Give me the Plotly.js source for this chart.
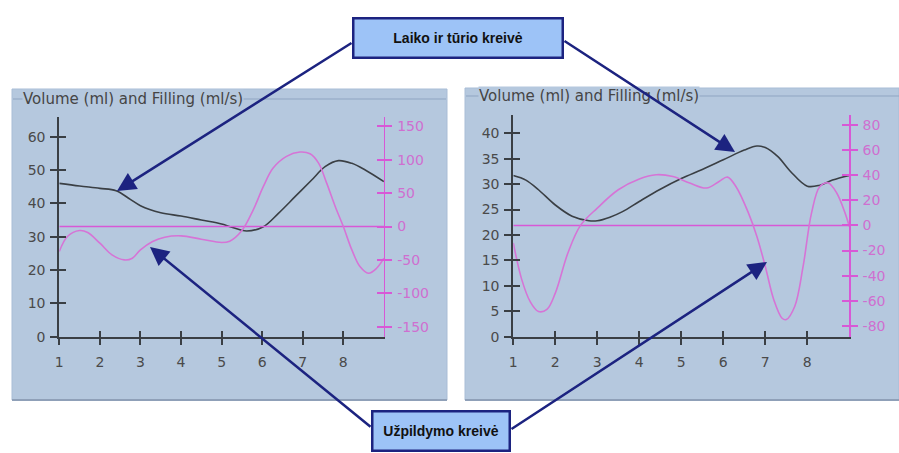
<!DOCTYPE html>
<html>
<head>
<meta charset="utf-8">
<script src="https://cdn.plot.ly/plotly-3.0.1.min.js"></script>
<style>html,body{margin:0;padding:0;background:#fff;}#chart{width:899px;height:453px;}</style>
</head>
<body>
<div id="chart"></div>
<script>
// ---- data ----
const panelTitle = "Volume (ml) and Filling (ml/s)";
const boxTop = "Laiko ir tūrio kreivė";
const boxBottom = "Užpildymo kreivė";

const xTicks = [1, 2, 3, 4, 5, 6, 7, 8];
const xRange = [1, 9];

// left panel
const leftVolX = [1, 1.5, 2, 2.4, 2.75, 3, 3.5, 4, 4.5, 5, 5.21, 5.62, 6.03, 6.4, 6.81, 7.22, 7.55, 7.88, 8.21, 8.54, 9];
const leftVolY = [46, 45.2, 44.5, 43.8, 41.2, 39.3, 37.2, 36.2, 35, 33.8, 33, 31.7, 33, 37, 42, 47, 51, 52.8, 52, 50, 46.5];
const leftFillX = [1, 1.2, 1.5, 1.7, 2, 2.3, 2.6, 2.8, 3, 3.3, 3.6, 4, 4.5, 5, 5.2, 5.5, 5.78, 6.03, 6.27, 6.6, 6.93, 7.18, 7.39, 7.59, 7.8, 8, 8.21, 8.41, 8.62, 8.82, 9];
const leftFillY = [-37.5, -15, -6, -9, -25, -42.5, -50, -47.5, -35, -22.5, -16, -14, -19, -24, -22, -6, 25, 60, 87.5, 105, 111.5, 109, 95, 65, 30, 0, -35, -60, -70, -62.5, -47.5];
const leftVolTicks = [0, 10, 20, 30, 40, 50, 60];
const leftFillTicks = [-150, -100, -50, 0, 50, 100, 150];
const leftFillLabels = ["-150", "-100", "-50", "0", "50", "100", "150"];

// right panel
const rightVolX = [1, 1.3, 1.6, 2, 2.4, 2.8, 3, 3.3, 3.6, 4, 4.5, 5, 5.5, 6, 6.5, 6.8, 7, 7.3, 7.6, 8, 8.3, 8.6, 9];
const rightVolY = [31.7, 30.8, 28.9, 25.9, 23.7, 22.8, 22.8, 23.5, 24.6, 26.6, 29, 31.1, 32.9, 34.8, 36.7, 37.5, 37.2, 35.4, 32.5, 29.6, 29.8, 30.8, 31.7];
const rightFillX = [1, 1.2, 1.4, 1.6, 1.8, 2, 2.3, 2.6, 3, 3.5, 4, 4.4, 4.8, 5.2, 5.6, 5.9, 6.1, 6.3, 6.6, 6.8, 7, 7.2, 7.4, 7.5, 7.7, 7.9, 8.1, 8.3, 8.5, 8.7, 8.9, 9];
const rightFillY = [-14, -43, -60.6, -68.6, -67, -54, -22, 0, 13.8, 28.4, 37, 40.4, 39, 33.8, 29.8, 35, 38.5, 31, 9.8, -8.8, -32.7, -59, -74, -75, -64.6, -32.7, 9.8, 31, 33.8, 25.8, 9.8, -0.8];
const rightVolTicks = [0, 5, 10, 15, 20, 25, 30, 35, 40];
const rightFillTicks = [-80, -60, -40, -20, 0, 20, 40, 60, 80];
const rightFillLabels = ["-80", "-60", "-40", "-20", "0", "20", "40", "60", "80"];

// ---- styling ----
const W = 899, H = 453;
const px = v => v / W;
const py = v => 1 - v / H;
const PANEL = '#b5c8de';
const AX = '#3a3f44';
const MAG = '#d674d6';
const MAGAX = '#d858d6';
const LBL = '#4a4a4a';
const NAVY = '#1c2380';
const FONT = 'DejaVu Sans';
const TW = 2;

const base = {showgrid: false, zeroline: false, fixedrange: true, tickmode: 'array'};

function xAxis(domain, anchor) {
  return Object.assign({}, base, {
    domain: domain, anchor: anchor, range: xRange, tickvals: xTicks,
    ticks: 'outside', ticklen: 6, tickwidth: TW, tickcolor: AX,
    showline: true, linecolor: AX, linewidth: 2,
    tickfont: {family: FONT, size: 14, color: LBL}, ticklabelstandoff: 5
  });
}
function xInner(over, anchor) {
  return Object.assign({}, base, {
    overlaying: over, anchor: anchor, range: xRange, tickvals: xTicks,
    ticks: 'inside', ticklen: 6, tickwidth: TW, tickcolor: AX,
    showline: false, showticklabels: false
  });
}
function yLeft(domain, anchor, range, ticks) {
  return Object.assign({}, base, {
    domain: domain, anchor: anchor, range: range, tickvals: ticks,
    ticks: 'outside', ticklen: 7, tickwidth: TW, tickcolor: AX,
    showline: true, linecolor: AX, linewidth: 2,
    tickfont: {family: FONT, size: 14, color: LBL}, ticklabelstandoff: 2
  });
}
function yInner(over, anchor, side, range, ticks, color) {
  return Object.assign({}, base, {
    overlaying: over, anchor: anchor, side: side, range: range, tickvals: ticks,
    ticks: 'inside', ticklen: 7, tickwidth: TW, tickcolor: color,
    showline: false, showticklabels: false
  });
}
function yRight(overlay, anchor, range, ticks, labels) {
  return Object.assign({}, base, {
    overlaying: overlay, anchor: anchor, side: 'right', range: range, tickvals: ticks, ticktext: labels,
    ticks: 'outside', ticklen: 7, tickwidth: TW, tickcolor: MAGAX,
    showline: true, linecolor: MAGAX, linewidth: 1.5,
    tickfont: {family: FONT, size: 14, color: '#cf6fd0'}, ticklabelstandoff: 2
  });
}

function line(x, y, xa, ya, color) {
  return {x: x, y: y, xaxis: xa, yaxis: ya, type: 'scatter', mode: 'lines', line: {color: color, width: 1.6, shape: 'spline'}, hoverinfo: 'skip'};
}
function dummy(xa, ya) {
  return {x: [], y: [], xaxis: xa, yaxis: ya, type: 'scatter', mode: 'lines', hoverinfo: 'skip'};
}

const traces = [
  dummy('x3', 'y'), dummy('x', 'y5'), dummy('x', 'y6'),
  dummy('x4', 'y3'), dummy('x2', 'y7'), dummy('x2', 'y8'),
  {x: xRange, y: [0, 0], xaxis: 'x', yaxis: 'y2', type: 'scatter', mode: 'lines', line: {color: MAGAX, width: 1.5}, hoverinfo: 'skip'},
  {x: xRange, y: [0, 0], xaxis: 'x2', yaxis: 'y4', type: 'scatter', mode: 'lines', line: {color: MAGAX, width: 1.5}, hoverinfo: 'skip'},
  line(leftVolX, leftVolY, 'x', 'y', AX),
  line(leftFillX, leftFillY, 'x', 'y2', MAG),
  line(rightVolX, rightVolY, 'x2', 'y3', AX),
  line(rightFillX, rightFillY, 'x2', 'y4', MAG)
];

function arrow(hx, hy, tx, ty) {
  return {
    xref: 'paper', yref: 'paper', x: px(hx), y: py(hy), ax: tx - hx, ay: ty - hy,
    text: '', showarrow: true, arrowhead: 2, arrowsize: 1.5, arrowwidth: 2.5,
    arrowcolor: NAVY, standoff: 0, startstandoff: 0
  };
}
function box(text, cx, cy, w, h) {
  return {
    xref: 'paper', yref: 'paper', x: px(cx), y: py(cy), xanchor: 'center', yanchor: 'middle',
    text: '<b>' + text + '</b>', showarrow: false, width: w, height: h, align: 'center', valign: 'middle',
    bgcolor: '#9dc3f7', bordercolor: NAVY, borderwidth: 2.5, borderpad: 0,
    font: {family: 'Liberation Sans', size: 14, color: '#111'}
  };
}
function ptitle(x, y) {
  return {
    xref: 'paper', yref: 'paper', x: px(x), y: py(y), xanchor: 'left', yanchor: 'middle',
    text: panelTitle, showarrow: false, bgcolor: PANEL, borderpad: 0,
    font: {family: FONT, size: 15, color: '#454545'}
  };
}

const lRangeL = [0, 65.9], lRangeR = [-165, 164];
const rRangeL = [0, 43.6], rRangeR = [-88.7, 88];

const layout = {
  width: W, height: H, margin: {l: 0, r: 0, t: 0, b: 0},
  paper_bgcolor: '#ffffff', plot_bgcolor: 'rgba(0,0,0,0)', showlegend: false,
  xaxis: xAxis([px(59.3), px(383.9)], 'y'),
  xaxis3: xInner('x', 'y'),
  yaxis: yLeft([py(336.7), py(117)], 'x', lRangeL, leftVolTicks),
  yaxis5: yInner('y', 'x', 'left', lRangeL, leftVolTicks, AX),
  yaxis2: yRight('y', 'x', lRangeR, leftFillTicks, leftFillLabels),
  yaxis6: yInner('y', 'x', 'right', lRangeR, leftFillTicks, MAGAX),
  xaxis2: xAxis([px(513.3), px(849.3)], 'y3'),
  xaxis4: xInner('x2', 'y3'),
  yaxis3: yLeft([py(336.7), py(115)], 'x2', rRangeL, rightVolTicks),
  yaxis7: yInner('y3', 'x2', 'left', rRangeL, rightVolTicks, AX),
  yaxis4: yRight('y3', 'x2', rRangeR, rightFillTicks, rightFillLabels),
  yaxis8: yInner('y3', 'x2', 'right', rRangeR, rightFillTicks, MAGAX),
  shapes: [
    {type: 'rect', xref: 'paper', yref: 'paper', x0: px(12), x1: px(447), y0: py(400), y1: py(89), fillcolor: PANEL, line: {color: '#a9bdd6', width: 1}, layer: 'below'},
    {type: 'rect', xref: 'paper', yref: 'paper', x0: px(465), x1: px(899), y0: py(400), y1: py(88), fillcolor: PANEL, line: {color: '#a9bdd6', width: 1}, layer: 'below'},
    {type: 'line', xref: 'paper', yref: 'paper', x0: px(13), x1: px(446), y0: py(99), y1: py(99), line: {color: '#8fa5c2', width: 1}, layer: 'below'},
    {type: 'line', xref: 'paper', yref: 'paper', x0: px(466), x1: px(899), y0: py(96), y1: py(96), line: {color: '#8fa5c2', width: 1}, layer: 'below'},
    {type: 'line', xref: 'paper', yref: 'paper', x0: px(12), x1: px(447), y0: py(400), y1: py(400), line: {color: '#8fa0b8', width: 2}, layer: 'below'},
    {type: 'line', xref: 'paper', yref: 'paper', x0: px(465), x1: px(899), y0: py(400), y1: py(400), line: {color: '#8fa0b8', width: 2}, layer: 'below'}
  ],
  annotations: [
    ptitle(22, 99),
    ptitle(478, 96),
    arrow(117, 191, 353, 42),
    arrow(735, 152, 563, 40),
    arrow(150, 247, 372, 428),
    arrow(767, 262, 510, 430),
    box(boxTop, 458, 38, 207, 37),
    box(boxBottom, 441, 431, 135, 37)
  ]
};

Plotly.newPlot('chart', traces, layout, {staticPlot: true, displayModeBar: false});
</script>
</body>
</html>
